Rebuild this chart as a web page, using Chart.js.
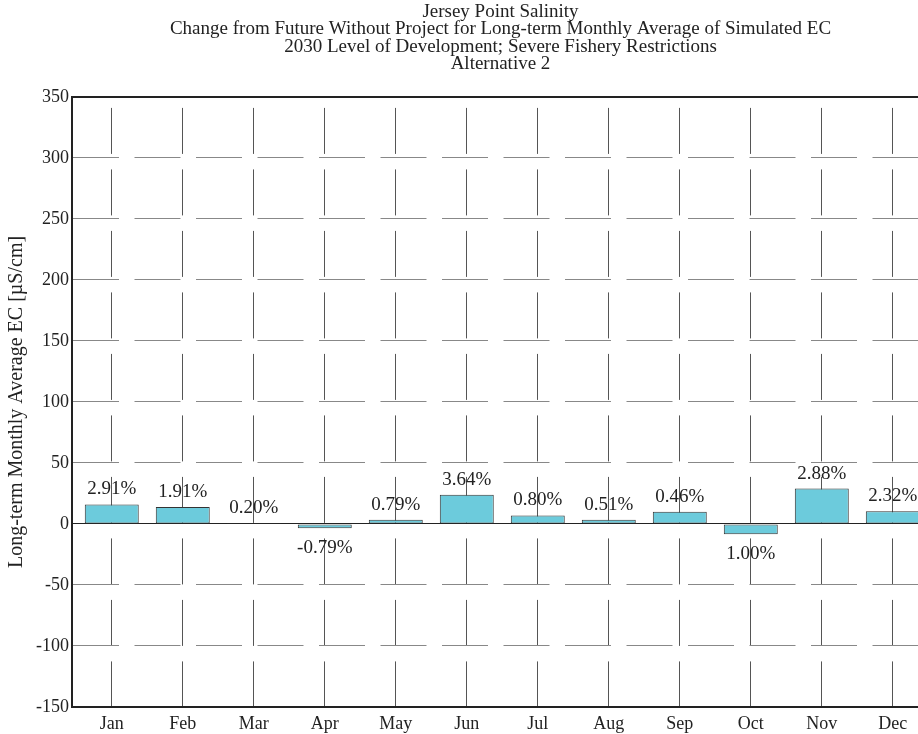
<!DOCTYPE html>
<html>
<head>
<meta charset="utf-8">
<script src="https://cdn.jsdelivr.net/npm/chart.js@4.4.1/dist/chart.umd.min.js"></script>
<style>
  html, body { margin: 0; padding: 0; background: #fff; overflow: hidden; }
  #wrap { width: 929px; height: 734px; }
</style>
</head>
<body>
<div id="wrap"><canvas id="ecChart" width="929" height="734"></canvas></div>
<script>
const months = ['Jan', 'Feb', 'Mar', 'Apr', 'May', 'Jun', 'Jul', 'Aug', 'Sep', 'Oct', 'Nov', 'Dec'];
const ecChange = [16, 14, 0.8, -3.5, 3.5, 24, 7, 3.5, 10, -8.5, 29, 10.5];
const pctLabels = ['2.91%', '1.91%', '0.20%', '-0.79%', '0.79%', '3.64%', '0.80%', '0.51%', '0.46%', '1.00%', '2.88%', '2.32%'];
const yTicks = [350, 300, 250, 200, 150, 100, 50, 0, -50, -100, -150];
const titleLines = [
  'Jersey Point Salinity',
  'Change from Future Without Project for Long-term Monthly Average of Simulated EC',
  '2030 Level of Development; Severe Fishery Restrictions',
  'Alternative 2'
];

const SERIF = '"Liberation Serif", "Times New Roman", serif';
const INK = '#222';

// percent labels above / below each bar
const barLabels = {
  id: 'barLabels',
  afterDatasetsDraw(chart) {
    const ctx = chart.ctx;
    const meta = chart.getDatasetMeta(0);
    ctx.save();
    ctx.font = '19px ' + SERIF;
    ctx.fillStyle = INK;
    ctx.textAlign = 'center';
    ctx.textBaseline = 'alphabetic';
    meta.data.forEach((bar, i) => {
      const y = ecChange[i] >= 0 ? bar.y - 10 : bar.y + 25;
      ctx.fillText(pctLabels[i], bar.x, y);
    });
    ctx.restore();
  }
};

new Chart(document.getElementById('ecChart'), {
  type: 'bar',
  data: {
    datasets: [{
      data: ecChange.map((v, i) => ({ x: i, y: v })),
      backgroundColor: 'rgb(108, 203, 220)',
      borderColor: '#333',
      borderWidth: 1,
      borderSkipped: false,
      barPercentage: 0.76,
      categoryPercentage: 1
    }]
  },
  options: {
    responsive: false,
    animation: false,
    devicePixelRatio: 1,
    layout: { padding: 0 },
    plugins: {
      legend: { display: false },
      tooltip: { enabled: false },
      title: {
        display: true,
        fullSize: false,
        text: titleLines,
        color: INK,
        font: { family: SERIF, size: 19, weight: 'normal', lineHeight: 0.92 },
        padding: { top: 3, bottom: 24 }
      }
    },
    scales: {
      x: {
        type: 'linear',
        position: 'bottom',
        offset: false,
        min: -0.56,
        max: 11.51,
        afterBuildTicks: (s) => { s.ticks = months.map((m, i) => ({ value: i })); },
        grid: {
          offset: false,
          color: '#555',
          lineWidth: 1,
          drawTicks: false
        },
        border: { display: true, color: INK, width: 2, dash: [46, 15.5], dashOffset: 50.5 },
        ticks: {
          autoSkip: false,
          maxRotation: 0,
          color: INK,
          font: { family: SERIF, size: 18 },
          padding: 6,
          callback: (v) => months[v]
        },
        afterFit: (s) => { s.height = 27; }
      },
      xTop: {
        position: 'top',
        type: 'category',
        labels: months,
        grid: { display: false, drawTicks: false },
        border: { display: true, color: INK, width: 2 },
        ticks: { display: false }
      },
      y: {
        min: -150,
        max: 350,
        afterBuildTicks: (s) => { s.ticks = yTicks.map(v => ({ value: v })); },
        grid: {
          color: (c) => c.tick && c.tick.value === 0 ? INK : '#888',
          lineWidth: 1,
          drawTicks: false
        },
        border: {
          display: true,
          color: INK,
          width: 2,
          dash: (c) => c.tick && c.tick.value === 0 ? [] : [46, 15.5]
        },
        ticks: { color: INK, font: { family: SERIF, size: 18 }, padding: 3 },
        title: {
          display: true,
          text: 'Long-term Monthly Average EC [µS/cm]',
          color: INK,
          font: { family: SERIF, size: 20 },
          padding: { top: 5, bottom: 0 }
        },
        afterFit: (s) => { s.width = 72; }
      }
    }
  },
  plugins: [barLabels]
});
</script>
</body>
</html>
